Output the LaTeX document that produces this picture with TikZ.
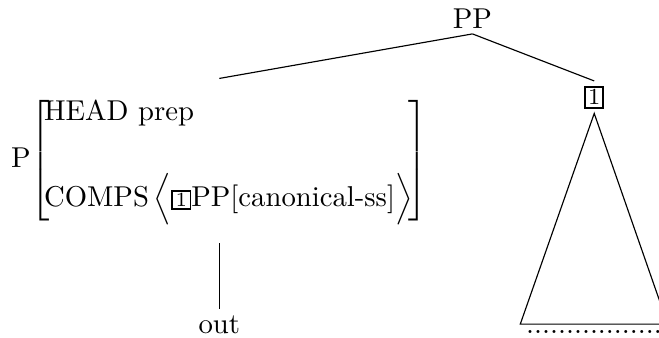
\documentclass[tikz,border=0pt]{standalone}
\usepackage{amsmath}
\newcommand{\avmtag}[1]{{\setlength{\fboxsep}{0.5pt}\setlength{\fboxrule}{0.6pt}\fbox{\makebox[4.8pt]{\scriptsize #1}}}}
\begin{document}
\begin{tikzpicture}[leaf/.style={anchor=base,inner sep=1.85pt}]
                \useasboundingbox (0,0) rectangle (8.070,-4.139);
                \node[leaf] (pp) at (5.786,-0.343) {PP};
                \node[anchor=base west,inner xsep=0pt,inner ysep=6pt] (avm) at (0.13,-2.057)
                    {P$\left[\begin{array}{@{\hspace{-2pt}}l@{\hspace{-1.5pt}}}
                        \text{HEAD prep}\\[15pt]
                        \text{COMPS}\,\Bigl\langle\avmtag{1}\text{PP[canonical-ss]}\Bigr\rangle
                    \end{array}\right]$};
                \node[draw,line width=0.6pt,font=\footnotesize,inner sep=1pt,outer sep=2pt] (tag) at (7.277,-1.190) {1};
                \node[leaf] (out) at (avm.south |- 0,-4.078) {out};
                \node[leaf] (yield) at (7.274,-4.078) {.................};

                \draw (pp.south) to (avm.north);
                \draw (pp.south) to (tag.north);
                \draw (avm.south) to (out.north);
                \draw (tag.south) -- (yield.north west) -- (yield.north east) -- cycle;
            \end{tikzpicture}
\end{document}
